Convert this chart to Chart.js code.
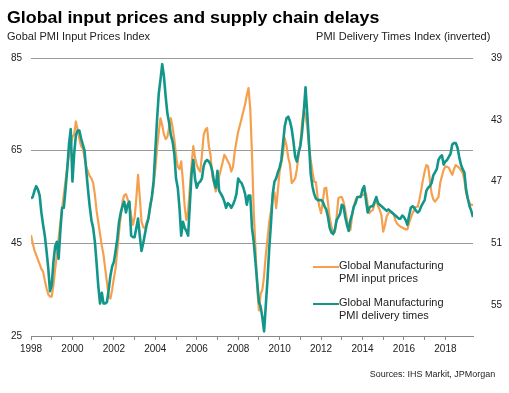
<!DOCTYPE html>
<html>
<head>
<meta charset="utf-8">
<script src="https://cdn.jsdelivr.net/npm/chart.js@4"></script>
<style>
    body { margin: 0; background: #fff; }
    #wrap { position: relative; width: 509px; height: 393px; font-family: 'Liberation Sans', Arial, sans-serif; color: #222; }
    #chart { position: absolute; left: 0; top: 0; }
    .t { position: absolute; white-space: nowrap; line-height: 1; transform-origin: 0 0; transform: scaleX(1.08); }
    .r { transform-origin: 100% 0; }
    .sw { position: absolute; height: 2.5px; width: 26px; }
</style>
</head>
<body>
<div id="wrap">
    <canvas id="chart" width="509" height="393"></canvas>
    <div class="t" style="left:7px;top:8.5px;font-size:16.5px;font-weight:bold;color:#000">Global input prices and supply chain delays</div>
    <div class="t" style="left:7px;top:32.4px;font-size:10.2px">Gobal PMI Input Prices Index</div>
    <div class="t r" style="right:19px;top:32.4px;font-size:10.2px">PMI Delivery Times Index (inverted)</div>
    <div class="t r" style="right:14px;top:370.3px;font-size:8.3px">Sources: IHS Markit, JPMorgan</div>
    <div id="legend"></div>
</div>
<script>
// monthly, Jan 1998 - May 2019
var startYear = 1998;

// Global Manufacturing PMI input prices (left axis)
var inputPrices = [
    46.8, 45.0, 43.5, 42.5, 41.5, 40.5, 39.5, 38.9, 37.0, 35.3, 34.0, 33.5,
    33.5, 36.0, 39.5, 42.5, 46.0, 49.5, 52.5, 55.5, 58.5, 61.5, 64.0, 66.0,
    68.0, 68.5, 71.3, 69.5, 67.5, 66.0, 65.5, 63.5, 61.5, 60.5, 59.5, 59.0,
    58.0, 55.5, 52.0, 49.5, 47.0, 44.5, 42.5, 39.5, 36.5, 33.5, 33.1, 35.0,
    37.5, 39.6, 43.5, 47.5, 51.0, 54.0, 55.4, 55.6, 54.5, 53.3, 51.0, 49.0,
    50.5, 54.7, 59.8, 55.0, 49.7, 48.5, 48.2, 49.5, 50.5, 52.5, 55.0, 57.5,
    61.0, 65.5, 69.0, 72.0, 70.5, 68.5, 67.5, 68.0, 70.0, 72.0, 70.0, 67.5,
    64.0, 61.5, 61.0, 62.7, 58.3, 53.0, 50.0, 52.0, 57.0, 62.0, 66.0, 63.5,
    61.9, 61.0, 60.5, 64.0, 68.4, 69.5, 69.9, 66.0, 64.0, 59.5, 58.0, 56.2,
    57.5, 59.5, 61.0, 62.5, 64.1, 63.5, 62.7, 62.0, 60.5, 61.5, 64.8, 67.0,
    69.1, 70.5, 72.0, 73.5, 75.0, 77.0, 78.5, 74.0, 64.1, 52.0, 44.0, 35.5,
    30.5, 34.0, 35.0, 38.0, 42.5, 46.0, 49.7, 52.0, 54.7, 56.0, 52.6, 56.5,
    60.5, 62.5, 64.5, 67.7, 66.0, 63.5, 61.9, 58.0, 58.5, 59.0, 61.0, 64.1,
    66.5, 71.0, 73.8, 72.5, 70.2, 66.0, 63.0, 60.5, 58.3, 58.2, 55.0, 52.9,
    51.5, 54.0, 56.9, 57.0, 53.7, 50.5, 48.6, 47.2, 47.4, 50.5, 54.7, 55.0,
    55.0, 54.0, 52.2, 50.0, 48.5, 47.9, 51.0, 53.0, 54.4, 55.0, 55.0, 55.4,
    55.4, 55.6, 55.8, 53.5, 51.5, 52.0, 52.2, 53.5, 54.4, 53.0, 52.2, 51.0,
    47.5, 48.9, 50.8, 51.5, 51.8, 51.6, 51.4, 50.0, 49.3, 48.9, 48.6, 48.4,
    48.2, 48.0, 48.0, 49.4, 50.5, 51.5, 52.3, 52.9, 52.9, 54.5, 56.5, 58.7,
    60.5, 61.9, 61.6, 58.7, 55.8, 54.5, 54.0, 54.5, 55.0, 58.0, 59.5, 60.9,
    61.6, 61.5, 61.3, 60.5, 59.8, 61.0, 61.9, 61.6, 61.3, 60.8, 60.2, 58.7,
    55.8, 54.5, 53.7, 53.3, 53.3
];

// Global Manufacturing PMI delivery times (right axis, inverted)
var deliveryTimes = [
    48.1, 48.0, 47.6, 47.3, 47.5, 47.9, 49.0, 49.8, 50.5, 51.5, 52.6, 54.1,
    53.7, 52.2, 51.2, 50.9, 52.0, 50.2, 48.7, 48.7, 47.5, 46.2, 44.6, 43.6,
    47.0, 45.2, 44.0, 43.7, 43.7, 44.2, 44.6, 45.0, 46.3, 47.5, 48.6, 49.5,
    50.0, 50.9, 52.3, 53.8, 54.9, 54.2, 54.9, 54.9, 54.8, 54.0, 53.1, 52.5,
    52.2, 51.5, 50.7, 49.6, 49.0, 48.6, 48.3, 49.0, 48.5, 48.3, 50.5, 50.6,
    50.6, 50.0, 49.4, 50.5, 51.5, 51.0, 50.4, 49.8, 49.4, 48.6, 48.0, 47.0,
    45.0, 43.0, 41.3, 40.4, 39.4, 40.2, 41.5, 42.6, 43.2, 44.0, 44.4, 45.2,
    46.8, 47.4, 48.7, 50.5, 49.6, 50.0, 50.2, 50.5, 48.5, 46.5, 45.6, 46.8,
    47.4, 47.1, 47.0, 46.8, 46.0, 45.7, 45.6, 45.7, 45.9, 46.3, 47.0, 47.4,
    46.3, 47.6, 47.8, 48.0, 48.3, 48.7, 48.4, 48.5, 48.7, 48.5, 48.2, 47.8,
    46.8, 47.0, 47.1, 47.4, 47.8, 48.5, 47.9, 47.9, 50.0, 50.9, 52.2, 53.5,
    54.8, 55.1, 55.8, 56.7, 55.0, 53.3, 51.3, 49.7, 47.8, 47.0, 46.8, 46.4,
    46.1, 45.6, 44.5, 43.4, 42.9, 42.8, 43.1, 43.6, 44.4, 45.4, 45.7, 45.1,
    44.7, 43.8, 42.5, 40.9, 42.6, 44.5, 46.5, 47.3, 47.8, 48.1, 48.2, 48.2,
    48.2, 48.3, 48.6, 48.8, 49.3, 50.0, 50.3, 50.4, 50.1, 49.5, 49.3, 49.1,
    48.5, 48.6, 49.3, 49.8, 50.2, 49.5, 49.1, 48.6, 48.4, 48.0, 48.0, 48.0,
    47.5, 47.3, 48.2, 49.0, 48.7, 48.6, 48.6, 48.3, 48.0, 48.4, 48.5, 48.6,
    48.7, 48.8, 48.9, 48.8, 48.9, 49.0, 49.1, 49.2, 49.3, 49.4, 49.4, 49.2,
    49.3, 49.5, 49.8, 49.2, 48.7, 48.6, 48.7, 48.9, 49.0, 48.9, 48.6, 48.4,
    48.2, 47.6, 47.4, 47.3, 47.1, 46.6, 46.4, 46.2, 45.6, 45.4, 45.3, 45.9,
    45.7, 45.6, 45.4, 45.2, 44.6, 44.5, 44.5, 44.8, 45.4, 45.9, 46.2, 46.4,
    47.5, 48.1, 48.6, 48.9, 49.3
];

var leftTicks = [25, 45, 65, 85];
var rightTicks = [39, 43, 47, 51, 55];
var orange = '#f5a04f';
var teal = '#13968a';

var series = [
    {label: ['Global Manufacturing', 'PMI input prices'], values: inputPrices, color: orange, axis: 'y', width: 2.2, order: 1},
    {label: ['Global Manufacturing', 'PMI delivery times'], values: deliveryTimes, color: teal, axis: 'y1', width: 2.6, order: 0}
];

var toPoints = function (values) {
    return values.map(function (v, i) {
        return {x: startYear + i / 12, y: v};
    });
};

var datasets = series.map(function (s) {
    return {
        label: s.label.join(' '),
        data: toPoints(s.values),
        borderColor: s.color,
        borderWidth: s.width,
        borderJoinStyle: 'round',
        pointRadius: 0,
        tension: 0,
        yAxisID: s.axis,
        order: s.order
    };
});

var tickFont = {family: "'Liberation Sans', Arial, sans-serif", size: 10};

var onlyValues = function (list) {
    return function (scale) {
        scale.ticks = list.map(function (v) { return {value: v}; });
    };
};

var chart = new Chart(document.getElementById('chart').getContext('2d'), {
    type: 'line',
    data: {datasets: datasets},
    options: {
        responsive: false,
        devicePixelRatio: 1,
        animation: false,
        layout: {padding: {top: 58}},
        plugins: {legend: {display: false}, tooltip: {enabled: false}},
        scales: {
            x: {
                type: 'linear',
                min: startYear,
                max: startYear + (inputPrices.length - 1) / 12,
                afterBuildTicks: function (scale) {
                    scale.ticks = scale.ticks.filter(function (t) {
                        return Math.abs(t.value - Math.round(t.value)) < 1e-6;
                    });
                },
                afterFit: function (scale) { scale.height = 57; },
                ticks: {
                    stepSize: 1, autoSkip: false, maxRotation: 0, padding: 3,
                    font: tickFont, color: '#222',
                    callback: function (v) { return v % 2 === 0 ? String(v) : ''; }
                },
                grid: {drawOnChartArea: false, drawTicks: true, tickLength: 4, color: '#888'},
                border: {color: '#888'}
            },
            y: {
                position: 'left',
                min: 25, max: 85,
                afterBuildTicks: onlyValues(leftTicks),
                afterFit: function (scale) { scale.width = 31; },
                ticks: {padding: 9, font: tickFont, color: '#222'},
                grid: {color: '#9a9a9a', drawTicks: false},
                border: {display: false}
            },
            y1: {
                position: 'right',
                reverse: true,
                min: 39, max: 57,
                afterBuildTicks: onlyValues(rightTicks),
                afterFit: function (scale) { scale.width = 36; },
                ticks: {padding: 10, font: tickFont, color: '#222'},
                grid: {display: false},
                border: {display: false}
            }
        }
    }
});

// legend inside the plot, bottom right
var legendTops = [259.9, 297.1];
var legend = document.getElementById('legend');
series.forEach(function (s, i) {
    var top = legendTops[i];
    var sw = document.createElement('div');
    sw.className = 'sw';
    sw.style.left = '313px';
    sw.style.top = (top + 5.6) + 'px';
    sw.style.background = s.color;
    legend.appendChild(sw);
    var txt = document.createElement('div');
    txt.className = 't';
    txt.style.left = '339.3px';
    txt.style.top = top + 'px';
    txt.style.fontSize = '10.2px';
    txt.style.lineHeight = '12.7px';
    txt.innerHTML = s.label.join('<br>');
    legend.appendChild(txt);
});
</script>
</body>
</html>
